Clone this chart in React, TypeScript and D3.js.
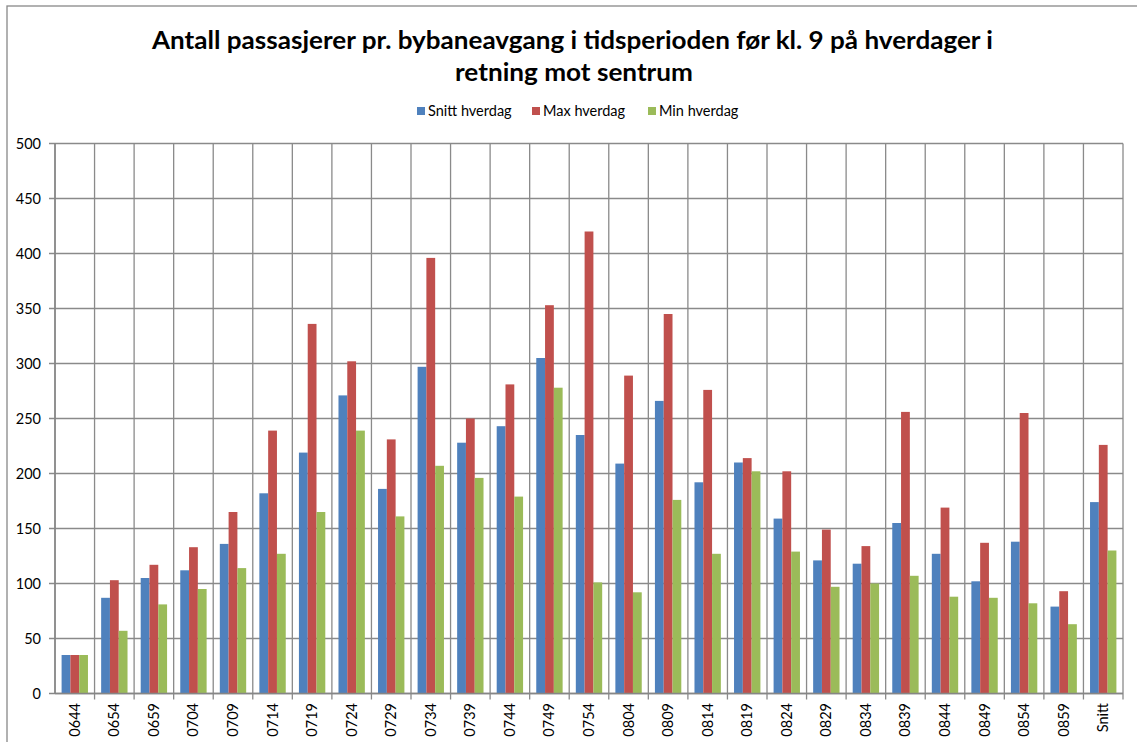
import React from "react";
import * as d3 from "d3";

const categories = ["0644","0654","0659","0704","0709","0714","0719","0724","0729","0734","0739","0744","0749","0754","0804","0809","0814","0819","0824","0829","0834","0839","0844","0849","0854","0859","Snitt"];
const snitt = [35,87,105,112,136,182,219,271,186,297,228,243,305,235,209,266,192,210,159,121,118,155,127,102,138,79,174];
const maxV = [35,103,117,133,165,239,336,302,231,396,250,281,353,420,289,345,276,214,202,149,134,256,169,137,255,93,226];
const minV = [35,57,81,95,114,127,165,239,161,207,196,179,278,101,92,176,127,202,129,97,100,107,88,87,82,63,130];
const seriesNames = ["Snitt hverdag","Max hverdag","Min hverdag"];
const colors = ["#4F81BD","#C0504D","#9BBB59"];
const yTicks = [0,50,100,150,200,250,300,350,400,450,500];

const W = 1137, H = 742;
const L = 55, R = 1123, T = 143.5, B = 693.5;
const FONT = "Lato, 'Open Sans', sans-serif";

export default function App() {
  const x = d3.scaleBand<string>().domain(categories).range([L, R]).paddingInner(0).paddingOuter(0);
  const y = d3.scaleLinear().domain([0, 500]).range([B, T]);
  const bw = x.bandwidth();
  const w = bw / 4.5;
  const series = [snitt, maxV, minV];
  const boundaries = d3.range(categories.length + 1).map(i => L + i * bw);
  return (
    <svg width={W} height={H} style={{ position: "absolute", left: 0, top: 0, background: "#fff" }}>
      <rect x={7} y={6} width={W + 10} height={H + 10} fill="#fff" stroke="#888" strokeWidth={1.3} />
      <text x={572.5} y={49} textAnchor="middle" fontFamily={FONT} fontWeight="bold" fontSize={25} fill="#000" textLength={841} lengthAdjust="spacingAndGlyphs">Antall passasjerer pr. bybaneavgang i tidsperioden før kl. 9 på hverdager i</text>
      <text x={574} y={81} textAnchor="middle" fontFamily={FONT} fontWeight="bold" fontSize={25} fill="#000" textLength={238} lengthAdjust="spacingAndGlyphs">retning mot sentrum</text>
      {/* legend */}
      {(() => {
        const starts = [417, 532, 648];
        return seriesNames.map((n, i) => (
          <g key={n}>
            <rect x={starts[i]} y={107} width={8} height={8} fill={colors[i]} />
            <text x={starts[i] + 11} y={116} fontFamily={FONT} fontSize={14.5} fill="#000">{n}</text>
          </g>
        ));
      })()}
      {/* gridlines */}
      {yTicks.map(t => (
        <line key={"h" + t} x1={L - 6} x2={R} y1={y(t)} y2={y(t)} stroke={t === 0 ? "#868686" : "#8a8a8a"} strokeWidth={1.3} />
      ))}
      {boundaries.map((bx, i) => (
        <line key={"v" + i} x1={bx} x2={bx} y1={T} y2={B + (i === 0 ? 0 : 6)} stroke="#8a8a8a" strokeWidth={1.3} />
      ))}
      {/* bars */}
      {series.map((s, si) => s.map((v, ci) => (
        <rect key={si + "-" + ci} x={x(categories[ci])! + 0.75 * w + si * w} y={y(v)} width={w} height={B - y(v)} fill={colors[si]} />
      )))}
      {/* axis lines */}
      <line x1={L} x2={R} y1={B} y2={B} stroke="#868686" strokeWidth={1.5} />
      <line x1={L} x2={L} y1={T} y2={B} stroke="#868686" strokeWidth={1.5} />
      {yTicks.map(t => (
        <text key={"yl" + t} x={41} y={y(t) + 5} textAnchor="end" fontFamily={FONT} fontSize={14.5} fill="#000">{t}</text>
      ))}
      {categories.map(c => {
        const cx = x(c)! + bw / 2;
        return (
          <text key={"xl" + c} transform={`translate(${cx + 5},703) rotate(-90)`} textAnchor="end" fontFamily={FONT} fontSize={14.5} fill="#000">{c}</text>
        );
      })}
    </svg>
  );
}
